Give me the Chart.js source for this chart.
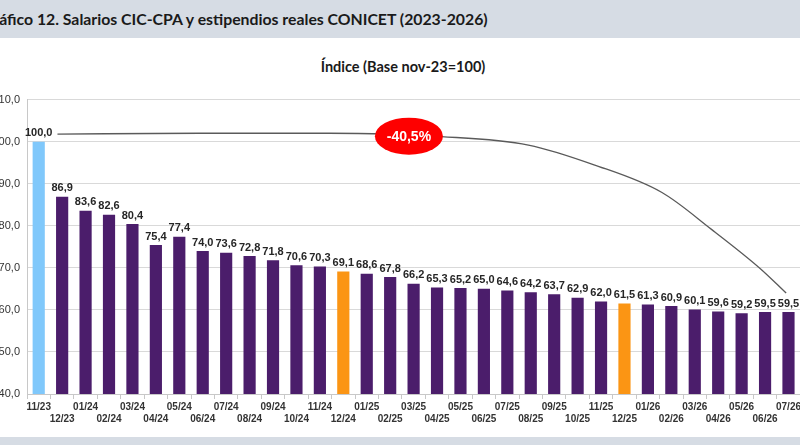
<!DOCTYPE html>
<html>
<head>
<meta charset="utf-8">
<script src="https://cdn.jsdelivr.net/npm/chart.js@4.4.1/dist/chart.umd.min.js"></script>
<style>
  html, body { margin: 0; padding: 0; background: #fff; overflow: hidden; }
  body { width: 800px; height: 445px; position: relative; }
  #header {
    position: absolute; left: 0; top: 0; width: 800px; height: 38px;
    background: #d6dce4; overflow: hidden;
  }
  #header span {
    position: absolute; left: -18px; top: 9px; white-space: nowrap;
    font-family: Lato, "Open Sans", sans-serif; font-weight: 700; font-size: 15.8px; color: #1a1a1a;
  }
  #footer { position: absolute; left: 0; top: 437px; width: 800px; height: 8px; background: #d6dce4; }
  #subtitle {
    position: absolute; left: 0; top: 58px; width: 806px; text-align: center;
    font-family: Lato, "Open Sans", sans-serif; font-weight: 700; font-size: 14.5px; color: #1a1a1a;
  }
  #wrap { position: absolute; left: -10px; top: 86px; width: 813px; height: 349px; }
</style>
</head>
<body>
<div id="header"><span>Gráfico 12. Salarios CIC-CPA y estipendios reales CONICET (2023-2026)</span></div>
<div id="subtitle">Índice (Base nov-23=100)</div>
<div id="wrap"><canvas id="chart"></canvas></div>
<div id="footer"></div>
<script>
// Months (nov-23 to jul-26)
const months = ['11/23', '12/23',
  '01/24', '02/24', '03/24', '04/24', '05/24', '06/24', '07/24', '08/24', '09/24', '10/24', '11/24', '12/24',
  '01/25', '02/25', '03/25', '04/25', '05/25', '06/25', '07/25', '08/25', '09/25', '10/25', '11/25', '12/25',
  '01/26', '02/26', '03/26', '04/26', '05/26', '06/26', '07/26'];

// Real salary index (base nov-23 = 100)
const indexValues = [100.0, 86.9,
  83.6, 82.6, 80.4, 75.4, 77.4, 74.0, 73.6, 72.8, 71.8, 70.6, 70.3, 69.1,
  68.6, 67.8, 66.2, 65.3, 65.2, 65.0, 64.6, 64.2, 63.7, 62.9, 62.0, 61.5,
  61.3, 60.9, 60.1, 59.6, 59.2, 59.5, 59.5];

// Arrow curve drawn over the bars (x = month position, y = index)
const curveX = [0.8, 6.9, 12.4, 17.2, 20.9, 23.7, 26.6, 28.7, 30.8, 31.9];
const curveY = [101.8, 102.0, 102.0, 101.2, 99.2, 94.5, 87.9, 79.2, 69.8, 64.0];

const dropLabel = '-40,5%';

const barColors = months.map((m, i) => {
  if (i === 0) return '#80c8fb';
  if (m.startsWith('12/') && i > 1) return '#fb9514';
  return '#4b1d6b';
});

const fmt = v => v.toFixed(1).replace('.', ',');

// Value labels above the bars
const barLabels = {
  id: 'barLabels',
  afterDatasetsDraw(chart) {
    const ctx = chart.ctx;
    const meta = chart.getDatasetMeta(0);
    ctx.save();
    ctx.font = 'bold 11px "Liberation Sans", Arial, sans-serif';
    ctx.fillStyle = '#262626';
    ctx.textAlign = 'center';
    ctx.textBaseline = 'middle';
    meta.data.forEach((bar, i) => {
      ctx.fillText(fmt(indexValues[i]), bar.x, bar.y - 8.5);
    });
    ctx.restore();
  }
};

// Red bubble with the total drop
const dropBubble = {
  id: 'dropBubble',
  afterDatasetsDraw(chart) {
    const ctx = chart.ctx;
    const cx = chart.scales.x2.getPixelForValue(15.8);
    const cy = chart.scales.y.getPixelForValue(101.3);
    ctx.save();
    ctx.beginPath();
    ctx.ellipse(cx, cy, 34, 18.5, 0, 0, Math.PI * 2);
    ctx.fillStyle = '#fe0000';
    ctx.fill();
    ctx.font = 'bold 14px "Liberation Sans", Arial, sans-serif';
    ctx.fillStyle = '#ffffff';
    ctx.textAlign = 'center';
    ctx.textBaseline = 'middle';
    ctx.fillText(dropLabel, cx, cy + 1);
    ctx.restore();
  }
};

new Chart(document.getElementById('chart'), {
  type: 'bar',
  data: {
    labels: months,
    datasets: [{
      data: indexValues,
      backgroundColor: barColors,
      barPercentage: 0.52,
      categoryPercentage: 1,
      grouped: false,
      order: 2
    }, {
      type: 'line',
      xAxisID: 'x2',
      data: curveX.map((x, i) => ({ x: x, y: curveY[i] })),
      borderColor: '#5a5a5a',
      borderWidth: 1.3,
      pointRadius: 0,
      cubicInterpolationMode: 'monotone',
      fill: false,
      order: 1
    }]
  },
  options: {
    responsive: true,
    maintainAspectRatio: false,
    animation: false,
    layout: { padding: { top: 10, right: 0, bottom: 0, left: 0 } },
    plugins: {
      legend: { display: false },
      tooltip: { enabled: false }
    },
    scales: {
      x: {
        grid: { offset: true, drawOnChartArea: false, tickLength: 5, color: '#c8c8c8' },
        border: { color: '#c8c8c8' },
        ticks: {
          autoSkip: false,
          maxRotation: 0,
          minRotation: 0,
          padding: 2,
          color: '#333333',
          font: { family: '"Liberation Sans", Arial, sans-serif', size: 10, weight: 'bold', lineHeight: 1.2 },
          callback: function (value, index) {
            const label = this.getLabelForValue(value);
            return index % 2 === 0 ? label : ['', label];
          }
        },
        afterFit: scale => { scale.height = 41; }
      },
      x2: {
        type: 'linear',
        display: false,
        offset: false,
        grace: 0,
        min: -0.5,
        max: 32.5
      },
      y: {
        min: 40,
        max: 110,
        ticks: {
          stepSize: 10,
          padding: 7,
          color: '#333333',
          font: { family: '"Liberation Sans", Arial, sans-serif', size: 11 },
          callback: v => fmt(v)
        },
        grid: { color: '#d9d9d9', drawTicks: false },
        border: { color: '#c8c8c8' },
        afterFit: scale => { scale.width = 37; }
      }
    }
  },
  plugins: [barLabels, dropBubble]
});
</script>
</body>
</html>
